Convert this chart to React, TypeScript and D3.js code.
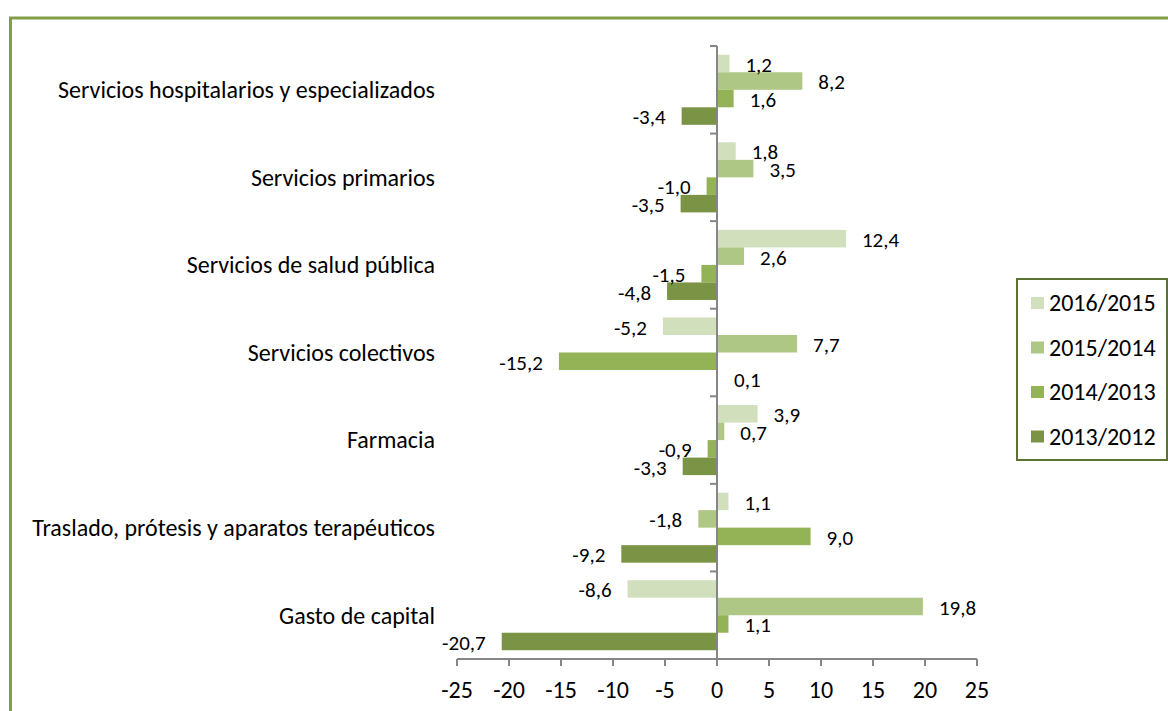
import React from "react";
import * as d3 from "d3";

const categories = [
  "Servicios hospitalarios y especializados",
  "Servicios primarios",
  "Servicios de salud pública",
  "Servicios colectivos",
  "Farmacia",
  "Traslado, prótesis y aparatos terapéuticos",
  "Gasto de capital",
];
const seriesNames = ["2016/2015", "2015/2014", "2014/2013", "2013/2012"];
const s2016 = [1.2, 1.8, 12.4, -5.2, 3.9, 1.1, -8.6];
const s2015 = [8.2, 3.5, 2.6, 7.7, 0.7, -1.8, 19.8];
const s2014 = [1.6, -1.0, -1.5, -15.2, -0.9, 9.0, 1.1];
const s2013 = [-3.4, -3.5, -4.8, 0.1, -3.3, -9.2, -20.7];
const seriesValues = [s2016, s2015, s2014, s2013];
const colors = ["#d1dfbc", "#afc785", "#94b256", "#7a9344"];
const xTicks = [-25, -20, -15, -10, -5, 0, 5, 10, 15, 20, 25];

const FONT = "Carlito, Calibri, Lato, sans-serif";

export default function App() {
  const W = 1168;
  const H = 711;
  const x = d3.scaleLinear().domain([-25, 25]).range([457, 977]);
  const y0 = d3
    .scaleBand<string>()
    .domain(categories)
    .range([46, 659])
    .paddingInner(0.2)
    .paddingOuter(0.1);
  const y1 = d3
    .scaleBand<string>()
    .domain(seriesNames)
    .range([0, y0.bandwidth()]);
  const step = y0.step();
  const fmt = (v: number) => d3.format(".1f")(v).replace(".", ",").replace("\u2212", "-");
  const axisColor = "#868686";
  const fs = 24;
  const fsData = 21;

  return (
    <svg
      width={W}
      height={H}
      style={{ position: "absolute", left: 0, top: 0, background: "#fff" }}
      fontFamily={FONT}
    >
      <rect x={0} y={0} width={W} height={H} fill="#fff" />
      <rect
        x={10.5}
        y={18}
        width={W + 20}
        height={H + 20}
        fill="none"
        stroke="#819d47"
        strokeWidth={3}
      />
      {/* bars */}
      {seriesValues.map((vals, si) =>
        vals.map((v, ci) => {
          const yy = (y0(categories[ci]) as number) + (y1(seriesNames[si]) as number);
          const x0 = x(Math.min(0, v));
          const w = Math.abs(x(v) - x(0));
          return (
            <rect
              key={`b${si}-${ci}`}
              x={x0}
              y={yy}
              width={w}
              height={y1.bandwidth()}
              fill={colors[si]}
            />
          );
        })
      )}
      {/* vertical axis */}
      <line x1={x(0)} x2={x(0)} y1={46} y2={666} stroke={axisColor} strokeWidth={2} />
      {d3.range(categories.length + 1).map((i) => (
        <line
          key={`ct${i}`}
          x1={x(0) - 7}
          x2={x(0)}
          y1={46 + i * step}
          y2={46 + i * step}
          stroke={axisColor}
          strokeWidth={2}
        />
      ))}
      {/* horizontal axis */}
      <line x1={x(-25)} x2={x(25)} y1={659} y2={659} stroke={axisColor} strokeWidth={2} />
      {xTicks.map((t) => (
        <g key={`xt${t}`}>
          <line x1={x(t)} x2={x(t)} y1={659} y2={666} stroke={axisColor} strokeWidth={2} />
          <text x={x(t)} y={690} dy="0.35em" fontSize={fs} textAnchor="middle" fill="#000">
            {String(t)}
          </text>
        </g>
      ))}
      {/* category labels */}
      {categories.map((c) => (
        <text
          key={c}
          x={435}
          y={(y0(c) as number) + y0.bandwidth() / 2}
          dy="0.35em"
          fontSize={fs}
          textAnchor="end"
          fill="#000"
        >
          {c}
        </text>
      ))}
      {/* data labels */}
      {seriesValues.map((vals, si) =>
        vals.map((v, ci) => {
          const yy =
            (y0(categories[ci]) as number) +
            (y1(seriesNames[si]) as number) +
            y1.bandwidth() / 2 +
            1;
          const pos = v >= 0;
          return (
            <text
              key={`l${si}-${ci}`}
              x={pos ? x(v) + 16 : x(v) - 16}
              y={yy}
              dy="0.35em"
              fontSize={fsData}
              textAnchor={pos ? "start" : "end"}
              fill="#000"
            >
              {fmt(v)}
            </text>
          );
        })
      )}
      {/* legend */}
      <rect x={1017} y={279} width={150} height={181} fill="#fff" stroke="#5a7232" strokeWidth={2} />
      {seriesNames.map((s, i) => (
        <g key={s}>
          <rect x={1031} y={297 + i * 44.5} width={13} height={12} fill={colors[i]} />
          <text x={1049} y={303 + i * 44.5} dy="0.35em" fontSize={fs} fill="#000">
            {s}
          </text>
        </g>
      ))}
    </svg>
  );
}
